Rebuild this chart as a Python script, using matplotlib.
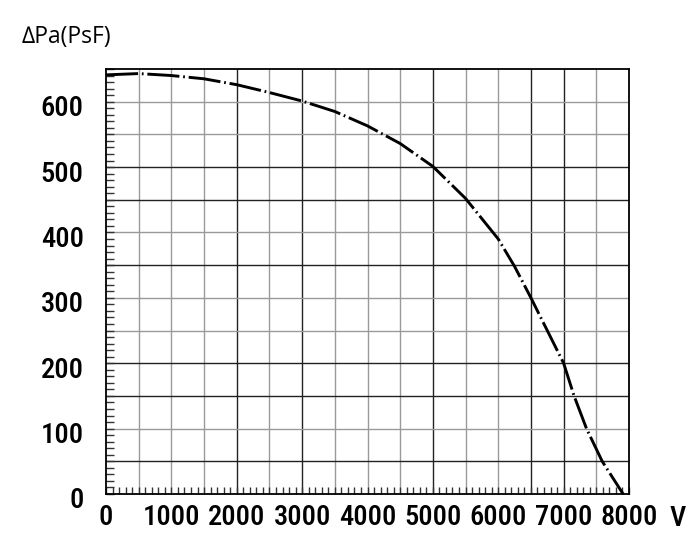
import numpy as np
import matplotlib
matplotlib.use('Agg')
import matplotlib.pyplot as plt
import matplotlib.transforms as mtransforms
from matplotlib.ticker import MultipleLocator

# fan curve: air volume V against pressure
flow     = [0, 500, 1000, 1500, 2000, 2500, 3000, 3500, 4000, 4500, 5000,
            5500, 6000, 6250, 6500, 6800, 7000, 7160, 7350, 7590, 7910]
pressure = [641, 643, 640, 635, 626, 614, 601, 585, 563, 536, 501,
            452, 390, 348, 300, 240, 200, 150, 100, 50, 0]

x_ticks = [0, 1000, 2000, 3000, 4000, 5000, 6000, 7000, 8000]
y_ticks = [0, 100, 200, 300, 400, 500, 600]
y_label = '\u2206Pa(PsF)'
x_label = 'V'

# grid lines that look darker in the original
dark_v = [2000, 3000, 5000, 6500, 7000]
dark_h = [50, 150, 200, 350, 450, 500]

# figure parameters (pixels at dpi 100)
W, H = 700, 560
left, right, bottom, top = 106, 629, 494, 69
ftsize = 20.5

tick_font  = ['Roboto Condensed', 'DejaVu Sans']
title_font = ['Open Sans', 'DejaVu Sans']
plt.rcParams['font.family'] = tick_font
plt.rcParams['font.weight'] = 'medium'

fig = plt.figure(figsize=(W / 100, H / 100), dpi=100)
ax = fig.add_axes([left / W, 1 - bottom / H, (right - left) / W, (bottom - top) / H])

ax.set_xlim(0, 8000)
ax.set_ylim(0, 650)

for v in np.arange(500, 8000, 500):
    dark = v in dark_v
    ax.axvline(v, color='#222222' if dark else '#9a9a9a', lw=1.0, zorder=1)
for p in np.arange(50, 650, 50):
    dark = p in dark_h
    ax.axhline(p, color='#222222' if dark else '#9a9a9a', lw=1.0, zorder=1)

ax.plot(flow, pressure, color='black', lw=2.1,
        linestyle=(0, (11, 1.3, 0.6, 1.3)), zorder=3)

ax.set_xticks(x_ticks)
ax.set_yticks(y_ticks)
ax.xaxis.set_minor_locator(MultipleLocator(100))
ax.yaxis.set_minor_locator(MultipleLocator(10))
ax.tick_params(which='both', direction='in', top=False, right=False,
               color='#333333', width=1.0)
ax.tick_params(axis='y', which='both', length=6)
ax.tick_params(axis='x', which='both', length=5)
ax.tick_params(axis='y', which='major', labelsize=ftsize, pad=16)
ax.tick_params(axis='x', which='major', labelsize=ftsize, pad=7)

for s in ax.spines.values():
    s.set_linewidth(1.3)
    s.set_color('black')

# labels in the original sit a little below their grid lines
offset = mtransforms.ScaledTranslation(0, -4 / 100, fig.dpi_scale_trans)
for lbl in ax.get_yticklabels():
    lbl.set_transform(lbl.get_transform() + offset)

fig.text(22 / W, 1 - 37 / H, y_label, fontsize=16.5, va='center', ha='left',
         family=title_font, weight='normal')
fig.text(678 / W, 1 - 518 / H, x_label, fontsize=ftsize, va='center', ha='center')

fig.savefig('out.png', dpi=100)
